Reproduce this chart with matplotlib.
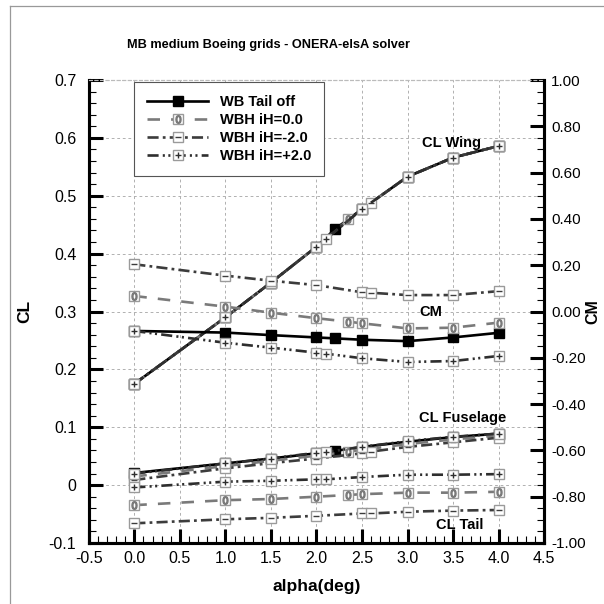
import matplotlib
matplotlib.use('Agg')
import matplotlib.pyplot as plt
from matplotlib.ticker import MultipleLocator, FormatStrFormatter
from matplotlib.legend_handler import HandlerTuple
from matplotlib.lines import Line2D

plt.rcParams['font.family'] = ['Liberation Sans', 'DejaVu Sans']
plt.rcParams['lines.scale_dashes'] = False

# alpha stations of each run
alpha_off = [0.0, 1.0, 1.5, 2.0, 2.2, 2.5, 3.0, 3.5, 4.0]
alpha_h0 = [0.0, 1.0, 1.5, 2.0, 2.35, 2.5, 3.0, 3.5, 4.0]
alpha_hm2 = [0.0, 1.0, 1.5, 2.0, 2.5, 2.6, 3.0, 3.5, 4.0]
alpha_hp2 = [0.0, 1.0, 1.5, 2.0, 2.1, 2.5, 3.0, 3.5, 4.0]

# CL wing
clw_off = [0.175, 0.290, 0.350, 0.412, 0.442, 0.477, 0.533, 0.566, 0.586]
clw_h0 = [0.175, 0.290, 0.350, 0.412, 0.459, 0.477, 0.533, 0.566, 0.586]
clw_hm2 = [0.175, 0.290, 0.350, 0.412, 0.477, 0.488, 0.533, 0.566, 0.586]
clw_hp2 = [0.175, 0.290, 0.350, 0.412, 0.425, 0.477, 0.533, 0.566, 0.586]

# CL fuselage
clf_off = [0.021, 0.0375, 0.046, 0.055, 0.059, 0.066, 0.075, 0.083, 0.089]
clf_h0 = [0.015, 0.033, 0.042, 0.051, 0.058, 0.061, 0.071, 0.079, 0.086]
clf_hm2 = [0.009, 0.029, 0.038, 0.046, 0.055, 0.058, 0.066, 0.074, 0.082]
clf_hp2 = [0.020, 0.0375, 0.046, 0.056, 0.057, 0.066, 0.076, 0.0835, 0.089]

# CL tail
clt_h0 = [-0.0346, -0.026, -0.024, -0.020, -0.017, -0.0156, -0.013, -0.013, -0.0115]
clt_hm2 = [-0.066, -0.059, -0.0565, -0.053, -0.049, -0.049, -0.046, -0.044, -0.043]
clt_hp2 = [-0.004, 0.006, 0.0075, 0.010, 0.010, 0.014, 0.018, 0.018, 0.019]

# CM
cm_off = [-0.084, -0.091, -0.102, -0.112, -0.116, -0.122, -0.128, -0.112, -0.092]
cm_h0 = [0.067, 0.021, -0.005, -0.029, -0.044, -0.051, -0.073, -0.070, -0.048]
cm_hm2 = [0.204, 0.155, 0.133, 0.114, 0.083, 0.081, 0.071, 0.071, 0.088]
cm_hp2 = [-0.084, -0.135, -0.156, -0.178, -0.182, -0.202, -0.218, -0.214, -0.192]

labels = ['WB Tail off', 'WBH iH=0.0', 'WBH iH=-2.0', 'WBH iH=+2.0']

fig = plt.figure(figsize=(6.04, 6.04), dpi=100)
ax = fig.add_axes([0.147, 0.101, 0.754, 0.7665])
ax2 = ax.twinx()

box = dict(marker='s', ms=7.5, mfc='white', mec='#9a9a9a', mew=1.0)
lw = 1.9


def series(a, x, y, color, dashes, glyph, gcolor, z, gsize=5):
    ln, = a.plot(x, y, color=color, lw=lw, dashes=dashes, zorder=z, **box)
    sym, = a.plot(x, y, ls='none', marker=glyph, ms=gsize, color=gcolor,
                  mec=gcolor, mew=1.0, zorder=z + 0.1)
    return ln, sym


d0 = (9, 8)
dm2 = (8, 3, 2, 3)
dp2 = (8, 3, 1.5, 2.5, 1.5, 3)

# tail off
h_off, = ax.plot(alpha_off, clw_off, color='black', lw=lw, marker='s', ms=6.5,
                 mfc='black', mec='black', zorder=3)
ax.plot(alpha_off, clf_off, color='black', lw=lw, marker='s', ms=6.5,
        mfc='black', mec='black', zorder=3)
ax2.plot(alpha_off, cm_off, color='black', lw=lw, marker='s', ms=6.5,
         mfc='black', mec='black', zorder=3)

# iH = 0
c0 = '#7a7a7a'
h0 = series(ax, alpha_h0, clw_h0, c0, d0, '$0$', c0, 4, 5.5)
series(ax, alpha_h0, clf_h0, c0, d0, '$0$', c0, 4, 5.5)
series(ax, alpha_h0, clt_h0, c0, d0, '$0$', c0, 4, 5.5)
series(ax2, alpha_h0, cm_h0, c0, d0, '$0$', c0, 4, 5.5)

# iH = -2
cm2 = '#3c3c3c'
hm2 = series(ax, alpha_hm2, clw_hm2, cm2, dm2, '_', cm2, 5, 4)
series(ax, alpha_hm2, clf_hm2, cm2, dm2, '_', cm2, 5, 4)
series(ax, alpha_hm2, clt_hm2, cm2, dm2, '_', cm2, 5, 4)
series(ax2, alpha_hm2, cm_hm2, cm2, dm2, '_', cm2, 5, 4)

# iH = +2
cp2 = '#2e2e2e'
hp2 = series(ax, alpha_hp2, clw_hp2, cp2, dp2, '+', cp2, 6)
series(ax, alpha_hp2, clf_hp2, cp2, dp2, '+', cp2, 6)
series(ax, alpha_hp2, clt_hp2, cp2, dp2, '+', cp2, 6)
series(ax2, alpha_hp2, cm_hp2, cp2, dp2, '+', cp2, 6)

ax.set_xlim(-0.5, 4.5)
ax.set_ylim(-0.1, 0.7)
ax2.set_ylim(-1.0, 1.0)

ax.xaxis.set_major_locator(MultipleLocator(0.5))
ax.xaxis.set_minor_locator(MultipleLocator(0.1))
ax.yaxis.set_major_locator(MultipleLocator(0.1))
ax.yaxis.set_minor_locator(MultipleLocator(0.02))
ax2.yaxis.set_major_locator(MultipleLocator(0.2))
ax2.yaxis.set_minor_locator(MultipleLocator(0.05))
ax.xaxis.set_major_formatter(FormatStrFormatter('%.1f'))
ax.yaxis.set_major_formatter(plt.FuncFormatter(lambda v, p: '0' if abs(v) < 1e-9 else '%.1f' % v))
ax2.yaxis.set_major_formatter(FormatStrFormatter('%.2f'))

for a in (ax, ax2):
    a.tick_params(which='major', direction='in', length=10, width=2.2, labelsize=11.5, pad=9)
    a.tick_params(which='minor', direction='in', length=5, width=0.8)
    for s in ('left', 'right', 'bottom'):
        a.spines[s].set_linewidth(2.2)
    a.spines['top'].set_color('#bbbbbb')
    a.spines['top'].set_linestyle((0, (2, 2)))
    a.spines['top'].set_linewidth(0.8)
ax.tick_params(axis='x', pad=6)
ax2.tick_params(axis='y', pad=5, labelsize=11)
ax.tick_params(top=False)

ax.grid(True, which='major', color='#b0b0b0', ls=(0, (2, 2)), lw=0.7)
ax.set_axisbelow(True)

ax.set_xlabel('alpha(deg)', fontsize=12.5, fontweight='bold', labelpad=9)
ax.set_ylabel('CL', fontsize=12.5, fontweight='bold', labelpad=12)
ax2.set_ylabel('CM', fontsize=11.5, fontweight='bold', va='center')
ax2.yaxis.set_label_coords(1.107, 0.5)
fig.text(0.445, 0.925, 'MB medium Boeing grids - ONERA-elsA solver',
         ha='center', va='center', fontsize=9.2, fontweight='bold')

ax.text(3.48, 0.591, 'CL Wing', ha='center', va='center', fontsize=10.5, fontweight='bold', zorder=10)
ax.text(3.26, 0.299, 'CM', ha='center', va='center', fontsize=10.5, fontweight='bold', zorder=10)
ax.text(3.6, 0.116, 'CL Fuselage', ha='center', va='center', fontsize=10.5, fontweight='bold', zorder=10)
ax.text(3.57, -0.069, 'CL Tail', ha='center', va='center', fontsize=10.5, fontweight='bold', zorder=10)

leg = ax2.legend([h_off, h0, hm2, hp2], labels, loc='upper left',
                 bbox_to_anchor=(0.099, 0.996), borderaxespad=0,
                 handler_map={tuple: HandlerTuple(ndivide=1, pad=0)},
                 numpoints=1, handlelength=4.2, handletextpad=0.8, borderpad=0.9,
                 labelspacing=0.28, fancybox=False, framealpha=1,
                 edgecolor='#555555', prop={'weight': 'bold', 'size': 10.5})
leg.get_frame().set_linewidth(0.8)
leg.set_zorder(20)

# page frame of the original export
fig.add_artist(Line2D([10 / 604, 10 / 604], [0, 1 - 6 / 604], transform=fig.transFigure,
                      color='#999999', lw=0.9))
fig.add_artist(Line2D([10 / 604, 1], [1 - 6 / 604, 1 - 6 / 604], transform=fig.transFigure,
                      color='#999999', lw=0.9))

fig.savefig('out.png', dpi=100)
